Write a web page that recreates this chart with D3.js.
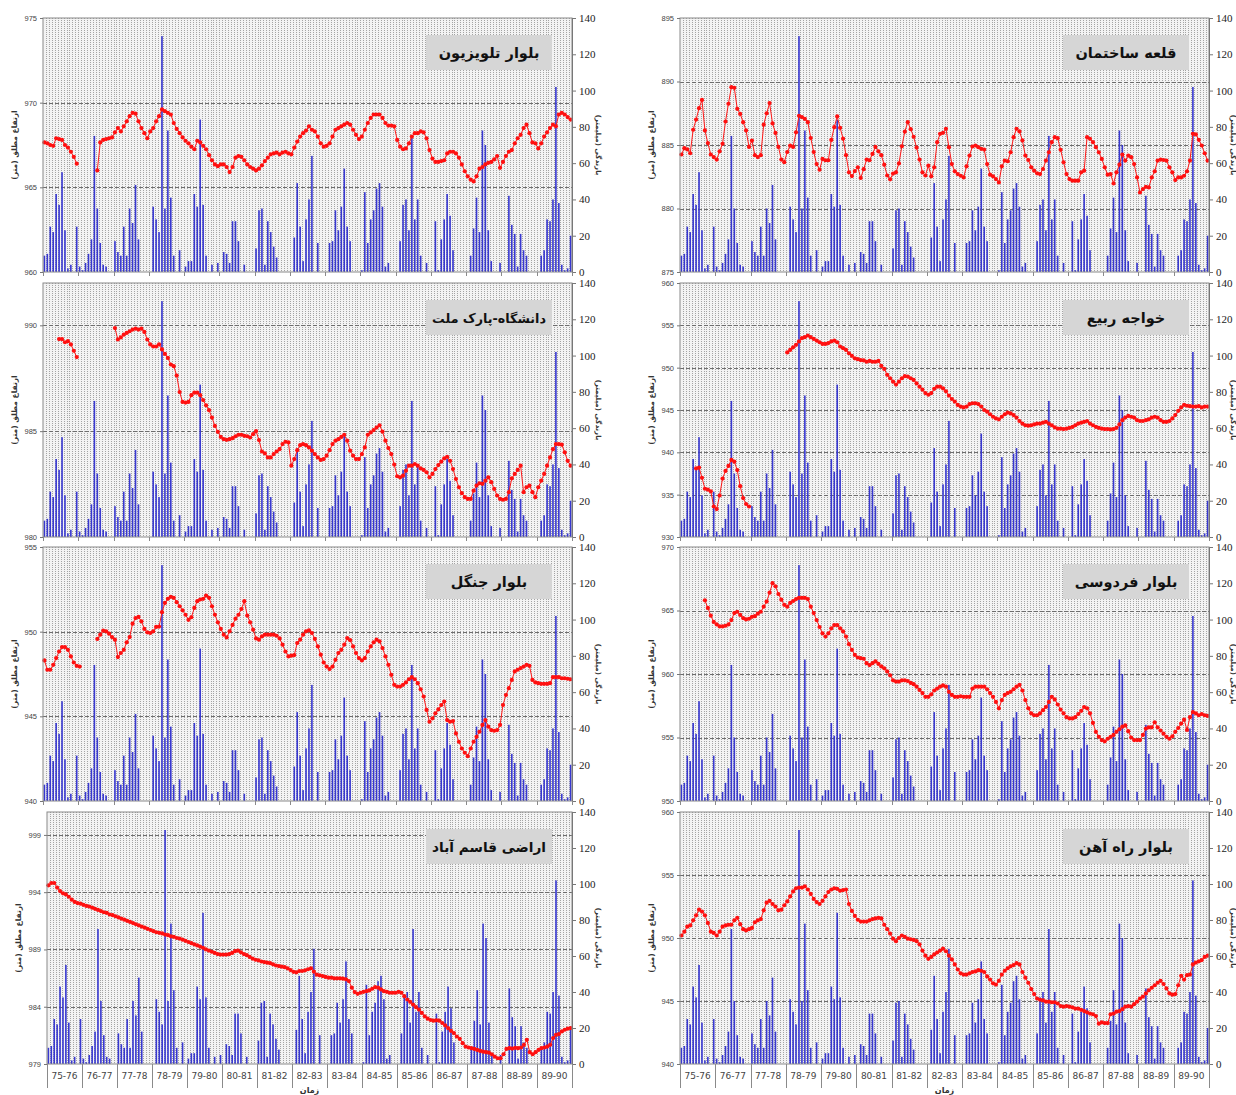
<!DOCTYPE html>
<html>
<head>
<meta charset="utf-8">
<script src="https://cdn.jsdelivr.net/npm/d3@7"></script>
<style>
  body { margin: 0; background: #fff; }
  svg text { font-family: "DejaVu Sans", sans-serif; }
</style>
</head>
<body>
<div id="chart"></div>
<script>
// hydrological years (x axis groups, 12 months each)
const yearLabels = ["75-76","76-77","77-78","78-79","79-80","80-81","81-82","82-83",
                    "83-84","84-85","85-86","86-87","87-88","88-89","89-90"];

// monthly rainfall (mm), same series in every panel
const rain = [
  9, 10, 25, 22, 43, 37, 55, 23, 2, 4, 0, 25,
  3, 1, 5, 10, 18, 75, 35, 16, 4, 3, 0, 0,
  17, 11, 9, 25, 9, 35, 27, 48, 18, 0, 0, 0,
  0, 36, 29, 22, 130, 35, 78, 41, 9, 0, 12, 0,
  3, 6, 6, 43, 36, 84, 37, 9, 0, 4, 0, 5,
  0, 11, 10, 5, 28, 28, 17, 0, 4, 0, 0, 0,
  13, 34, 35, 4, 28, 22, 14, 8, 0, 0, 0, 0,
  0, 19, 49, 25, 6, 29, 40, 64, 0, 16, 0, 0,
  0, 16, 17, 34, 23, 36, 57, 25, 17, 0, 0, 0,
  1, 44, 16, 29, 34, 46, 49, 36, 3, 5, 0, 0,
  0, 17, 37, 40, 23, 75, 29, 40, 9, 0, 5, 0,
  0, 28, 1, 18, 29, 43, 31, 12, 0, 0, 0, 0,
  0, 9, 24, 41, 22, 78, 70, 23, 6, 0, 0, 5,
  0, 0, 42, 26, 21, 3, 21, 12, 9, 0, 0, 0,
  0, 9, 12, 29, 28, 40, 102, 38, 4, 1, 2, 20
];

// groundwater level (m), one array per well, null = no reading
const levelTelevision = [
  967.65, 967.6, 967.5, 967.45, 967.9, 967.85, 967.8, 967.5, 967.35, 967.1, 966.8, 966.4,
  null, null, null, null, null, null, 966.0, 967.65, 967.8, 967.85, 967.9, 967.95,
  968.25, 968.5, 968.3, 968.6, 968.9, 969.2, 969.4, 969.35, 968.9, 968.5, 968.2, 967.9,
  968.3, 968.5, 968.9, 969.2, 969.6, 969.5, 969.4, 969.3, 968.8, 968.45, 968.2, 967.95,
  967.75, 967.6, 967.4, 967.25, 967.75, 967.65, 967.45, 967.25, 966.9, 966.6, 966.35, 966.25,
  966.35, 966.35, 966.2, 965.9, 966.2, 966.75, 966.85, 966.8, 966.6, 966.35, 966.2, 966.1,
  966.0, 966.1, 966.3, 966.55, 966.75, 966.95, 967.0, 967.05, 966.95, 967.05, 967.1, 967.0,
  966.95, 967.35, 967.7, 968.0, 968.2, 968.35, 968.6, 968.4, 968.3, 968.0, 967.6, 967.4,
  967.45, 967.6, 968.0, 968.4, 968.5, 968.6, 968.7, 968.8, 968.7, 968.4, 968.1, 967.85,
  968.0, 968.4, 968.8, 969.1, 969.3, 969.3, 969.3, 969.1, 968.8, 968.65, 968.65, 968.6,
  967.8, 967.4, 967.25, 967.3, 967.6, 968.0, 968.2, 968.2, 968.3, 968.25, 967.9, 967.2,
  966.7, 966.5, 966.5, 966.55, 966.6, 967.0, 967.1, 967.1, 967.0, 966.75, 966.35, 965.95,
  965.65, 965.45, 965.35, 965.65, 966.1, 966.2, 966.35, 966.45, 966.5, 966.65, 966.85, 966.15,
  966.5, 966.85, 967.1, 967.2, 967.6, 967.9, 968.1, 968.5, 968.7, 968.2, 967.65, 967.6,
  967.3, 967.6, 968.0, 968.25, 968.5, 968.7, 968.6, 969.3, 969.4, 969.3, 969.15, 969.0
];

const levelUniversity = [
  null, null, null, null, null, 989.35, 989.35, 989.2, 989.25, 989.1, 988.8, 988.5,
  null, null, null, null, null, null, null, null, null, null, null, null,
  989.87, 989.33, 989.43, 989.56, 989.64, 989.72, 989.8, 989.84, 989.8, 989.84, 989.69, 989.33,
  989.1, 989.0, 989.0, 989.1, 988.86, 988.65, 988.46, 988.15, 988.07, 987.63, 986.85, 986.38,
  986.35, 986.38, 986.7, 986.82, 986.82, 986.7, 986.47, 986.22, 985.99, 985.64, 985.25, 984.97,
  984.73, 984.62, 984.59, 984.62, 984.67, 984.76, 984.83, 984.83, 984.78, 984.76, 984.7, 984.86,
  985.0, 984.58, 984.04, 983.95, 983.76, 983.76, 983.92, 984.04, 984.15, 984.39, 984.5, 984.47,
  983.37, 983.68, 984.1, 984.34, 984.39, 984.34, 984.23, 984.08, 983.92, 983.76, 983.64, 983.68,
  983.84, 984.1, 984.39, 984.55, 984.62, 984.73, 984.83, 984.55, 984.08, 983.84, 983.68, 983.68,
  983.92, 984.23, 984.83, 984.94, 985.05, 985.17, 985.28, 984.98, 984.55, 984.2, 983.92, 983.42,
  982.87, 982.82, 982.9, 983.13, 983.37, 983.37, 983.45, 983.37, 983.24, 983.17, 983.06, 982.82,
  982.98, 983.21, 983.4, 983.56, 983.71, 983.79, 983.6, 983.21, 982.74, 982.35, 982.07, 981.88,
  981.8, 981.8, 982.19, 982.43, 982.54, 982.51, 982.66, 982.82, 982.59, 982.27, 981.96, 981.8,
  981.76, 981.8, 982.12, 982.77, 982.98, 983.17, 983.37, 982.12, 982.35, 982.43, 982.12, 981.88,
  982.35, 982.66, 982.98, 983.37, 983.76, 984.15, 984.39, 984.39, 984.36, 984.0, 983.6, 983.37
];

const levelJangal = [
  948.3, 947.75, 947.75, 948.04, 948.44, 948.83, 949.09, 949.09, 948.93, 948.54, 948.18, 947.98,
  947.94, null, null, null, null, null, 949.57, 949.82, 950.06, 950.02, 949.88, 949.68,
  949.53, 948.5, 948.74, 948.93, 949.37, 949.68, 950.47, 950.8, 950.87, 950.61, 950.16, 949.96,
  949.92, 950.02, 950.28, 950.3, 951.15, 951.7, 951.94, 952.06, 952.0, 951.74, 951.5, 951.26,
  951.0, 950.7, 950.85, 951.4, 951.8, 951.9, 951.94, 952.13, 952.0, 951.5, 951.0, 950.55,
  950.16, 949.82, 949.66, 950.02, 950.4, 950.77, 951.0, 951.34, 951.8, 950.95, 950.55, 950.12,
  949.6, 949.53, 949.72, 949.82, 949.82, 949.82, 949.82, 949.76, 949.6, 949.23, 948.83, 948.54,
  948.58, 948.62, 949.33, 949.53, 949.82, 950.02, 950.08, 949.92, 949.57, 949.13, 948.64, 948.18,
  947.94, 947.79, 947.94, 948.34, 948.74, 948.93, 949.23, 949.62, 949.5, 949.13, 948.74, 948.44,
  948.3, 948.44, 948.83, 949.13, 949.37, 949.53, 949.43, 949.03, 948.54, 948.04, 947.45, 946.86,
  946.76, 946.76, 946.86, 947.0, 947.19, 947.31, 947.19, 946.96, 946.6, 946.17, 945.38, 944.68,
  944.88, 945.18, 945.41, 945.67, 945.87, 944.78, 944.68, 944.72, 943.99, 943.5, 943.1, 942.85,
  942.65, 943.1, 943.5, 943.79, 944.09, 944.49, 944.78, 944.39, 944.19, 944.15, 944.19, 944.49,
  945.67, 946.26, 946.66, 947.15, 947.65, 947.75, 947.85, 947.94, 948.04, 947.98, 947.15, 947.0,
  946.96, 946.92, 946.92, 946.92, 946.96, 947.31, 947.31, 947.31, 947.25, 947.25, 947.22, 947.19
];

const levelQasemabad = [
  994.6, 994.8, 994.8, 994.4, 994.1, 993.9, 993.8, 993.6, 993.35, 993.15, 993.05, 993.0,
  992.9, 992.8, 992.75, 992.65, 992.55, 992.45, 992.35, 992.25, 992.2, 992.05, 992.0, 991.9,
  991.8, 991.7, 991.6, 991.5, 991.4, 991.3, 991.2, 991.1, 991.0, 990.9, 990.8, 990.7,
  990.6, 990.5, 990.45, 990.4, 990.3, 990.25, 990.15, 990.1, 990.0, 989.95, 989.85, 989.75,
  989.65, 989.55, 989.45, 989.35, 989.25, 989.15, 989.0, 988.9, 988.8, 988.7, 988.6, 988.55,
  988.55, 988.55, 988.6, 988.7, 988.85, 988.9, 988.75, 988.6, 988.5, 988.35, 988.2, 988.1,
  988.05, 987.95, 987.9, 987.85, 987.8, 987.7, 987.6, 987.55, 987.5, 987.45, 987.35, 987.2,
  987.05, 987.0, 987.12, 987.12, 987.18, 987.27, 987.36, 987.06, 986.8, 986.74, 986.68, 986.6,
  986.54, 986.54, 986.48, 986.48, 986.48, 986.45, 986.39, 986.24, 985.66, 985.28, 985.13, 985.22,
  985.3, 985.36, 985.42, 985.57, 985.72, 985.66, 985.51, 985.36, 985.3, 985.22, 985.22, 985.22,
  985.3, 985.22, 984.92, 984.63, 984.43, 984.19, 983.96, 983.75, 983.46, 983.16, 982.96, 982.84,
  982.78, 982.81, 982.78, 982.58, 982.37, 982.14, 981.9, 981.7, 981.4, 981.2, 980.82, 980.52,
  980.44, 980.38, 980.32, 980.23, 980.14, 980.08, 980.03, 980.0, 979.85, 979.65, 979.5, 979.5,
  979.85, 980.32, 980.38, 980.35, 980.41, 980.38, 980.44, 980.67, 981.11, 980.03, 979.85, 980.03,
  980.23, 980.38, 980.44, 980.52, 980.67, 981.26, 981.55, 981.61, 981.84, 981.99, 982.08, 982.14
];

const levelQaleh = [
  884.25, 884.75, 884.65, 884.35, 886.2, 887.0, 887.9, 888.55, 886.15, 885.15, 884.25, 884.05,
  883.85, 884.5, 885.1, 886.85, 888.25, 889.55, 889.5, 887.85, 887.45, 886.8, 886.15, 884.85,
  885.35, 884.2, 884.05, 884.2, 886.6, 887.5, 888.3, 886.7, 885.95, 884.85, 883.85, 883.65,
  884.45, 884.95, 884.85, 886.0, 887.3, 887.2, 887.05, 886.8, 885.55, 884.45, 883.5, 883.05,
  883.9, 883.8, 883.8, 885.4, 886.4, 887.25, 886.35, 885.5, 884.2, 882.85, 882.55, 882.95,
  883.25, 882.4, 883.1, 883.85, 883.8, 884.3, 884.85, 884.5, 884.2, 883.45, 882.6, 882.3,
  882.75, 882.85, 883.55, 884.9, 886.05, 886.8, 886.25, 885.65, 884.8, 883.85, 882.85, 882.6,
  883.37, 882.53, 883.24, 885.22, 885.88, 885.96, 886.28, 884.83, 883.5, 882.93, 882.71, 882.58,
  882.45, 883.32, 884.17, 884.88, 884.96, 884.83, 884.7, 884.64, 883.5, 882.66, 882.53, 882.32,
  882.05, 883.32, 883.77, 883.72, 884.43, 885.62, 886.28, 886.07, 885.36, 884.17, 883.82, 883.24,
  882.98, 882.77, 882.71, 883.11, 883.77, 884.43, 885.22, 885.62, 885.54, 884.62, 883.64, 882.71,
  882.32, 882.19, 882.19, 882.19, 882.85, 882.98, 885.62, 885.49, 885.22, 884.83, 884.43, 883.9,
  883.24, 882.66, 882.71, 881.97, 882.85, 883.45, 884.25, 883.77, 884.17, 884.04, 883.5, 882.45,
  881.26, 881.53, 881.71, 881.66, 882.45, 882.93, 883.77, 883.85, 883.82, 883.77, 883.24, 882.85,
  882.24, 882.45, 882.45, 882.58, 882.93, 883.77, 885.88, 885.83, 885.41, 884.96, 884.35, 883.77
];

const levelRabi = [
  null, null, null, null, null, 938.1, 938.2, 937.0, 935.7, 935.6, 935.4, 933.6,
  933.3, 934.9, 936.9, 937.8, 938.4, 939.1, 938.9, 937.9, 936.0, 934.6, 933.9, 933.6,
  null, null, null, null, null, null, null, null, null, null, null, null,
  951.8, 952.1, 952.4, 952.7, 953.1, 953.5, 953.6, 953.8, 953.6, 953.4, 953.2, 953.0,
  952.8, 952.8, 952.9, 953.1, 953.2, 953.0, 952.5, 952.3, 952.1, 951.7, 951.4, 951.1,
  951.0, 950.9, 950.85, 950.7, 950.8, 950.7, 950.7, 950.8, 950.2, 949.85, 949.15, 948.75,
  948.35, 948.0, 948.35, 948.75, 949.0, 948.95, 948.75, 948.55, 948.15, 947.75, 947.4, 947.0,
  946.8, 947.0, 947.5, 947.75, 947.75, 947.55, 947.2, 946.7, 946.3, 946.0, 945.6, 945.4,
  945.3, 945.4, 945.7, 945.8, 945.8, 945.7, 945.4, 945.0, 944.8, 944.5, 944.2, 944.0,
  943.9, 944.2, 944.5, 944.7, 944.6, 944.4, 944.1, 943.7, 943.4, 943.2, 943.15, 943.2,
  943.3, 943.4, 943.4, 943.5, 943.6, 943.4, 943.2, 942.95, 942.8, 942.8, 942.75, 942.8,
  942.9, 943.0, 943.2, 943.4, 943.5, 943.6, 943.7, 943.4, 943.2, 943.0, 942.9, 942.8,
  942.75, 942.75, 942.7, 942.75, 942.9, 943.3, 943.8, 944.1, 944.3, 944.2, 944.1, 943.8,
  943.7, 943.7, 943.8, 943.9, 944.1, 944.2, 944.1, 943.8, 943.6, 943.6, 943.7, 944.0,
  944.4, 944.9, 945.3, 945.6, 945.5, 945.45, 945.4, 945.4, 945.45, 945.3, 945.4, 945.4
];

const levelFerdowsi = [
  null, null, null, null, null, null, null, null, 965.8, 965.2, 964.6, 964.1,
  963.9, 963.75, 963.75, 963.8, 963.9, 964.25, 964.8, 964.9, 964.65, 964.4, 964.3, 964.35,
  964.5, 964.55, 964.75, 964.9, 965.3, 965.7, 966.4, 967.15, 966.9, 966.3, 965.85, 965.45,
  965.3, 965.6, 965.75, 965.9, 966.0, 966.0, 966.0, 965.9, 965.3, 964.8, 964.25, 963.7,
  963.2, 962.95, 963.2, 963.6, 963.85, 963.85, 963.6, 963.35, 962.95, 962.35, 961.9, 961.5,
  961.3, 961.25, 961.2, 960.85, 960.7, 960.85, 961.0, 960.8, 960.6, 960.45, 960.2, 959.9,
  959.5, 959.4, 959.4, 959.5, 959.5, 959.45, 959.3, 959.2, 959.0, 958.75, 958.5, 958.2,
  958.2, 958.4, 958.7, 958.85, 959.0, 959.1, 959.0, 958.6, 958.35, 958.2, 958.2, 958.25,
  958.2, 958.2, 958.2, 958.85, 959.0, 959.0, 959.0, 959.0, 958.8, 958.5, 958.2, 957.8,
  957.3, 957.95, 958.35, 958.5, 958.6, 958.8, 959.0, 959.15, 958.7, 957.95, 957.3, 956.9,
  956.75, 956.75, 956.9, 957.15, 957.4, 957.8, 958.2, 958.0, 957.6, 957.2, 956.9, 956.6,
  956.5, 956.5, 956.6, 956.85, 957.1, 957.4, 957.3, 956.9, 956.15, 955.45, 955.05, 954.8,
  954.7, 954.9, 955.05, 955.2, 955.45, 955.65, 955.85, 955.95, 955.5, 955.0, 954.8, 954.8,
  954.8, 955.2, 955.7, 955.8, 955.8, 956.2, 955.8, 955.55, 955.3, 955.05, 954.9, 955.1,
  955.45, 955.75, 956.1, 956.4, 955.6, 956.6, 957.0, 956.9, 956.75, 956.85, 956.75, 956.7
];

const levelRahahan = [
  950.2, 950.5, 950.9, 951.0, 951.4, 951.8, 952.25, 952.1, 951.8, 951.2, 950.5, 950.4,
  950.2, 950.5, 950.9, 951.0, 951.05, 951.05, 951.4, 951.6, 951.1, 950.7, 950.6, 950.7,
  950.8, 951.25, 951.4, 951.5, 952.2, 952.8, 952.95, 952.7, 952.5, 952.2, 952.25, 952.6,
  952.9, 953.3, 953.7, 953.95, 954.0, 954.0, 954.1, 953.85, 953.5, 953.1, 952.85, 952.7,
  952.95, 953.3, 953.65, 953.85, 953.95, 953.9, 953.75, 953.8, 953.85, 952.7, 952.15, 951.75,
  951.45, 951.3, 951.3, 951.3, 951.4, 951.5, 951.55, 951.6, 951.55, 951.05, 950.7, 950.35,
  949.95, 949.75, 950.0, 950.2, 950.1, 949.95, 949.9, 949.85, 949.75, 949.5, 949.0, 948.6,
  948.35, 948.5, 948.7, 948.85, 949.0, 949.15, 948.95, 948.6, 948.3, 947.9, 947.5, 947.2,
  947.1, 947.1, 947.2, 947.3, 947.35, 947.45, 947.4, 947.3, 946.95, 946.7, 946.4, 946.3,
  946.6, 947.1, 947.4, 947.6, 947.75, 947.85, 948.0, 947.9, 947.3, 946.85, 946.45, 945.95,
  945.55, 945.2, 945.1, 945.05, 944.95, 944.95, 944.9, 944.9, 944.8, 944.6, 944.55, 944.6,
  944.55, 944.5, 944.4, 944.4, 944.3, 944.2, 944.1, 944.0, 943.95, 943.8, 943.2, 943.3,
  943.25, 943.25, 943.95, 944.0, 944.15, 944.2, 944.35, 944.55, 944.6, 944.55, 944.75, 944.95,
  945.2, 945.35, 945.6, 945.85, 946.05, 946.25, 946.45, 946.6, 946.35, 946.0, 945.6, 945.5,
  945.55, 946.25, 947.0, 946.7, 947.05, 947.1, 947.9, 948.05, 948.15, 948.25, 948.5, 948.6
];

const panels = [
  { title: "بلوار تلویزیون", levels: levelTelevision, yMin: 960, yMax: 975, ticks: [960, 965, 970, 975], x: 43, y: 18, w: 529, h: 254 },
  { title: "دانشگاه-پارک ملت", levels: levelUniversity, yMin: 980, yMax: 992, ticks: [980, 985, 990], x: 43, y: 283, w: 529, h: 254 },
  { title: "بلوار جنگل", levels: levelJangal, yMin: 940, yMax: 955, ticks: [940, 945, 950, 955], x: 43, y: 547, w: 529, h: 254 },
  { title: "اراضی قاسم آباد", levels: levelQasemabad, yMin: 979, yMax: 1001, ticks: [979, 984, 989, 994, 999], x: 47, y: 812, w: 525, h: 252, bottom: true },
  { title: "قلعه ساختمان", levels: levelQaleh, yMin: 875, yMax: 895, ticks: [875, 880, 885, 890, 895], x: 680, y: 18, w: 529, h: 254 },
  { title: "خواجه ربیع", levels: levelRabi, yMin: 930, yMax: 960, ticks: [930, 935, 940, 945, 950, 955, 960], x: 680, y: 283, w: 529, h: 254 },
  { title: "بلوار فردوسی", levels: levelFerdowsi, yMin: 950, yMax: 970, ticks: [950, 955, 960, 965, 970], x: 680, y: 547, w: 529, h: 254 },
  { title: "بلوار راه آهن", levels: levelRahahan, yMin: 940, yMax: 960, ticks: [940, 945, 950, 955, 960], x: 680, y: 812, w: 529, h: 252, bottom: true }
];

const svg = d3.select("#chart").append("svg")
  .attr("width", 1236)
  .attr("height", 1095);

const months = d3.range(rain.length);

panels.forEach(p => {
  const g = svg.append("g").attr("transform", `translate(${p.x},${p.y})`);

  const x = d3.scaleBand().domain(months).range([0, p.w]).paddingInner(0.45).paddingOuter(0.2);
  const xm = d3.scaleLinear().domain([0, months.length]).range([0, p.w]);
  const yL = d3.scaleLinear().domain([p.yMin, p.yMax]).range([p.h, 0]);
  const yR = d3.scaleLinear().domain([0, 140]).range([p.h, 0]);

  // plot background with dotted monthly grid
  g.append("rect").attr("width", p.w).attr("height", p.h).attr("fill", "#f3f3f3");
  g.append("g").selectAll("line")
    .data(d3.range(1, months.length))
    .join("line")
    .attr("x1", d => Math.round(xm(d)) + 0.5).attr("x2", d => Math.round(xm(d)) + 0.5)
    .attr("y1", 0).attr("y2", p.h)
    .attr("stroke", "#a4a4a4").attr("stroke-width", 1)
    .attr("stroke-dasharray", "1,1");

  // dashed horizontal grid at left axis ticks
  g.append("g").selectAll("line")
    .data(p.ticks.filter(t => t > p.yMin && t < p.yMax))
    .join("line")
    .attr("x1", 0).attr("x2", p.w)
    .attr("y1", d => Math.round(yL(d)) + 0.5).attr("y2", d => Math.round(yL(d)) + 0.5)
    .attr("stroke", "#6e6e6e").attr("stroke-dasharray", "4,2");

  // rainfall bars
  g.append("g").selectAll("rect")
    .data(rain)
    .join("rect")
    .attr("x", (d, i) => x(i))
    .attr("y", d => yR(d))
    .attr("width", x.bandwidth())
    .attr("height", d => p.h - yR(d))
    .attr("fill", "#3838d0");

  // groundwater level line
  const cx = i => x(i) + x.bandwidth() / 2;
  const line = d3.line()
    .defined(d => d !== null)
    .x((d, i) => cx(i))
    .y(d => yL(d));
  g.append("path")
    .datum(p.levels)
    .attr("d", line)
    .attr("fill", "none")
    .attr("stroke", "#ff1a1a")
    .attr("stroke-width", 1);
  g.append("g").selectAll("circle")
    .data(p.levels.map((v, i) => ({ v, i })).filter(d => d.v !== null))
    .join("circle")
    .attr("cx", d => cx(d.i))
    .attr("cy", d => yL(d.v))
    .attr("r", 2.1)
    .attr("fill", "#ff1010");

  // frame
  g.append("rect").attr("width", p.w).attr("height", p.h)
    .attr("fill", "none").attr("stroke", "#8a8a8a");

  // left axis
  const axL = g.append("g").call(d3.axisLeft(yL).tickValues(p.ticks).tickSize(3).tickFormat(d3.format("d")));
  axL.select(".domain").remove();
  axL.selectAll("line").attr("stroke", "#777");
  axL.selectAll("text").attr("font-size", 7.5).attr("fill", "#444")
    .style("font-family", "Liberation Sans, sans-serif");

  // right axis
  const axR = g.append("g").attr("transform", `translate(${p.w},0)`)
    .call(d3.axisRight(yR).tickValues(d3.range(0, 141, 20)).tickSize(4));
  axR.select(".domain").attr("stroke", "#777");
  axR.selectAll("line").attr("stroke", "#777");
  axR.selectAll("text").attr("font-size", 11).attr("fill", "#222")
    .style("font-family", "Liberation Serif, serif");

  // axis titles
  g.append("text")
    .attr("transform", `translate(-26,${p.h / 2}) rotate(-90)`)
    .attr("text-anchor", "middle")
    .attr("font-size", 7.5).attr("font-weight", "bold").attr("fill", "#333")
    .attr("direction", "rtl")
    .text("ارتفاع مطلق (متر)");
  g.append("text")
    .attr("transform", `translate(${Math.min(p.w + 24, 1231 - p.x)},${p.h / 2}) rotate(90)`)
    .attr("text-anchor", "middle")
    .attr("font-size", 7).attr("font-weight", "bold").attr("fill", "#333")
    .attr("direction", "rtl")
    .text("بارندگی (میلیمتر)");

  // year boundaries on the bottom axis
  const bounds = d3.range(0, months.length + 1, 12);
  g.append("g").selectAll("line")
    .data(bounds)
    .join("line")
    .attr("x1", d => Math.round(xm(d)) + 0.5).attr("x2", d => Math.round(xm(d)) + 0.5)
    .attr("y1", p.h).attr("y2", p.h + (p.bottom ? 24 : 4))
    .attr("stroke", "#8a8a8a");

  if (p.bottom) {
    g.append("g").selectAll("text")
      .data(yearLabels)
      .join("text")
      .attr("x", (d, k) => xm(k * 12 + 6))
      .attr("y", p.h + 15)
      .attr("text-anchor", "middle")
      .attr("font-size", 9).attr("fill", "#444")
      .text(d => d);
    g.append("text")
      .attr("x", p.w / 2)
      .attr("y", p.h + 29)
      .attr("text-anchor", "middle")
      .attr("font-size", 8).attr("font-weight", "bold").attr("fill", "#333")
      .text("زمان");
  }

  // station title box
  const bw = 126, bh = 35;
  g.append("rect")
    .attr("x", p.w - 20 - bw).attr("y", 17)
    .attr("width", bw).attr("height", bh)
    .attr("fill", "#d6d6d6");
  const t = g.append("text")
    .attr("x", p.w - 20 - bw / 2).attr("y", 17 + bh / 2 + 5)
    .attr("text-anchor", "middle")
    .attr("direction", "rtl")
    .attr("font-size", 14.5).attr("font-weight", "bold").attr("fill", "#111")
    .text(p.title);
  const tw = t.node().getComputedTextLength();
  if (tw > bw - 12) t.attr("font-size", 14.5 * (bw - 12) / tw);
});
</script>
</body>
</html>
